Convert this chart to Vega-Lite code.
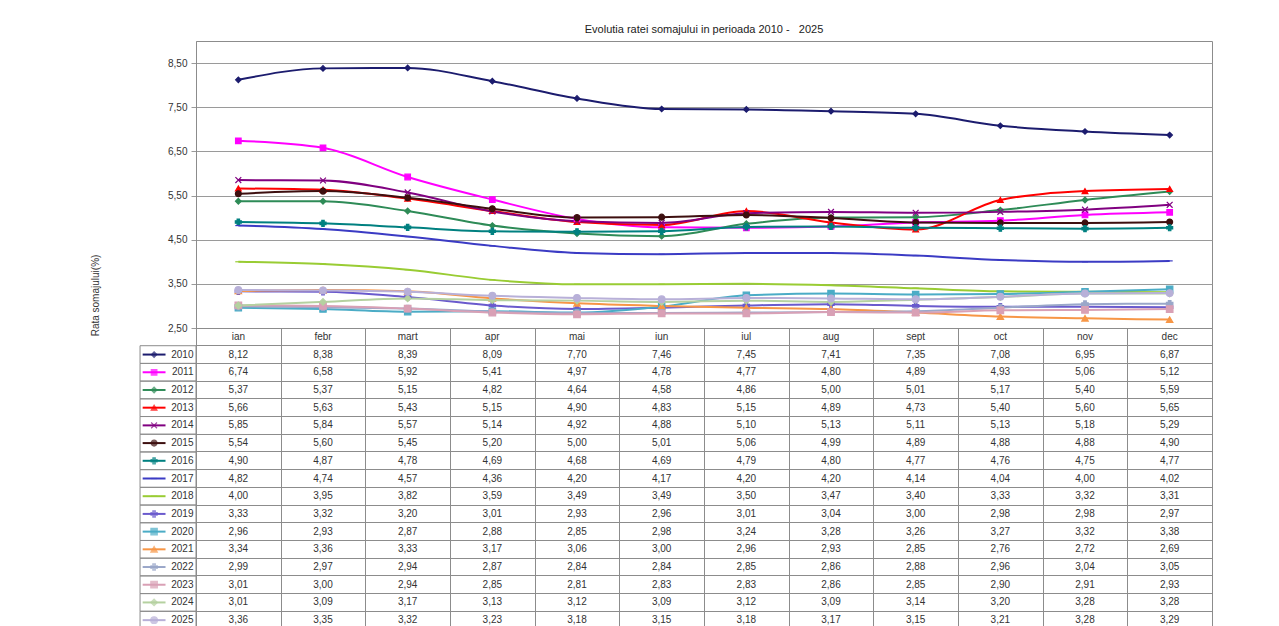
{
  "$schema": "https://vega.github.io/schema/vega-lite/v6.json",
  "background": "white",
  "padding": {"left": 89, "top": 23, "right": 0, "bottom": 0},
  "config": {
    "locale": {"number": {"decimal": ",", "thousands": ".", "grouping": [3], "currency": ["", ""]}},
    "view": {"stroke": "#8c8c8c"},
    "font": "Liberation Sans"
  },
  "datasets": {
    "months": [
      {"mon": "ian", "m": 1}, {"mon": "febr", "m": 2}, {"mon": "mart", "m": 3}, {"mon": "apr", "m": 4},
      {"mon": "mai", "m": 5}, {"mon": "iun", "m": 6}, {"mon": "iul", "m": 7}, {"mon": "aug", "m": 8},
      {"mon": "sept", "m": 9}, {"mon": "oct", "m": 10}, {"mon": "nov", "m": 11}, {"mon": "dec", "m": 12}
    ],
    "rates": [
      {"year": "2010", "ian": 8.12, "febr": 8.38, "mart": 8.39, "apr": 8.09, "mai": 7.70, "iun": 7.46, "iul": 7.45, "aug": 7.41, "sept": 7.35, "oct": 7.08, "nov": 6.95, "dec": 6.87},
      {"year": "2011", "ian": 6.74, "febr": 6.58, "mart": 5.92, "apr": 5.41, "mai": 4.97, "iun": 4.78, "iul": 4.77, "aug": 4.80, "sept": 4.89, "oct": 4.93, "nov": 5.06, "dec": 5.12},
      {"year": "2012", "ian": 5.37, "febr": 5.37, "mart": 5.15, "apr": 4.82, "mai": 4.64, "iun": 4.58, "iul": 4.86, "aug": 5.00, "sept": 5.01, "oct": 5.17, "nov": 5.40, "dec": 5.59},
      {"year": "2013", "ian": 5.66, "febr": 5.63, "mart": 5.43, "apr": 5.15, "mai": 4.90, "iun": 4.83, "iul": 5.15, "aug": 4.89, "sept": 4.73, "oct": 5.40, "nov": 5.60, "dec": 5.65},
      {"year": "2014", "ian": 5.85, "febr": 5.84, "mart": 5.57, "apr": 5.14, "mai": 4.92, "iun": 4.88, "iul": 5.10, "aug": 5.13, "sept": 5.11, "oct": 5.13, "nov": 5.18, "dec": 5.29},
      {"year": "2015", "ian": 5.54, "febr": 5.60, "mart": 5.45, "apr": 5.20, "mai": 5.00, "iun": 5.01, "iul": 5.06, "aug": 4.99, "sept": 4.89, "oct": 4.88, "nov": 4.88, "dec": 4.90},
      {"year": "2016", "ian": 4.90, "febr": 4.87, "mart": 4.78, "apr": 4.69, "mai": 4.68, "iun": 4.69, "iul": 4.79, "aug": 4.80, "sept": 4.77, "oct": 4.76, "nov": 4.75, "dec": 4.77},
      {"year": "2017", "ian": 4.82, "febr": 4.74, "mart": 4.57, "apr": 4.36, "mai": 4.20, "iun": 4.17, "iul": 4.20, "aug": 4.20, "sept": 4.14, "oct": 4.04, "nov": 4.00, "dec": 4.02},
      {"year": "2018", "ian": 4.00, "febr": 3.95, "mart": 3.82, "apr": 3.59, "mai": 3.49, "iun": 3.49, "iul": 3.50, "aug": 3.47, "sept": 3.40, "oct": 3.33, "nov": 3.32, "dec": 3.31},
      {"year": "2019", "ian": 3.33, "febr": 3.32, "mart": 3.20, "apr": 3.01, "mai": 2.93, "iun": 2.96, "iul": 3.01, "aug": 3.04, "sept": 3.00, "oct": 2.98, "nov": 2.98, "dec": 2.97},
      {"year": "2020", "ian": 2.96, "febr": 2.93, "mart": 2.87, "apr": 2.88, "mai": 2.85, "iun": 2.98, "iul": 3.24, "aug": 3.28, "sept": 3.26, "oct": 3.27, "nov": 3.32, "dec": 3.38},
      {"year": "2021", "ian": 3.34, "febr": 3.36, "mart": 3.33, "apr": 3.17, "mai": 3.06, "iun": 3.00, "iul": 2.96, "aug": 2.93, "sept": 2.85, "oct": 2.76, "nov": 2.72, "dec": 2.69},
      {"year": "2022", "ian": 2.99, "febr": 2.97, "mart": 2.94, "apr": 2.87, "mai": 2.84, "iun": 2.84, "iul": 2.85, "aug": 2.86, "sept": 2.88, "oct": 2.96, "nov": 3.04, "dec": 3.05},
      {"year": "2023", "ian": 3.01, "febr": 3.00, "mart": 2.94, "apr": 2.85, "mai": 2.81, "iun": 2.83, "iul": 2.83, "aug": 2.86, "sept": 2.85, "oct": 2.90, "nov": 2.91, "dec": 2.93},
      {"year": "2024", "ian": 3.01, "febr": 3.09, "mart": 3.17, "apr": 3.13, "mai": 3.12, "iun": 3.09, "iul": 3.12, "aug": 3.09, "sept": 3.14, "oct": 3.20, "nov": 3.28, "dec": 3.28},
      {"year": "2025", "ian": 3.36, "febr": 3.35, "mart": 3.32, "apr": 3.23, "mai": 3.18, "iun": 3.15, "iul": 3.18, "aug": 3.17, "sept": 3.15, "oct": 3.21, "nov": 3.28, "dec": 3.29}
    ]
  },
  "vconcat": [
    {
      "width": 1016,
      "height": 287,
      "title": {"text": "Evolutia ratei somajului in perioada 2010 -\u00a0\u00a0 2025", "fontSize": 11, "fontWeight": "normal", "color": "#222222", "offset": 6, "anchor": "middle"},
      "data": {"name": "rates"},
      "transform": [
        {"fold": ["ian", "febr", "mart", "apr", "mai", "iun", "iul", "aug", "sept", "oct", "nov", "dec"], "as": ["mon", "v"]},
        {"lookup": "mon", "from": {"data": {"name": "months"}, "key": "mon", "fields": ["m"]}}
      ],
      "encoding": {
        "x": {"field": "m", "type": "quantitative", "scale": {"domain": [0.5, 12.5], "nice": false, "zero": false}, "axis": null},
        "y": {"field": "v", "type": "quantitative", "scale": {"domain": [2.5, 9.0], "nice": false, "zero": false},
          "axis": {"values": [2.5, 3.5, 4.5, 5.5, 6.5, 7.5, 8.5], "format": ".2f", "grid": true, "gridColor": "#9a9a9a", "tickColor": "#9a9a9a", "domainColor": "#8c8c8c", "tickSize": 5, "labelFontSize": 10, "labelColor": "#333333", "labelPadding": 4,
            "title": "Rata somajului(%)", "titleFontSize": 10, "titleFontWeight": "normal", "titleColor": "#333333", "titleAngle": 270, "titleAlign": "center", "titleBaseline": "middle", "titleX": -101, "titleY": 254}},
        "color": {"field": "year", "type": "nominal", "legend": null,
          "scale": {"domain": ["2010","2011","2012","2013","2014","2015","2016","2017","2018","2019","2020","2021","2022","2023","2024","2025"],
            "range": ["#1c1c6e","#ff00ff","#2e8b57","#ff0000","#800080","#3d0f0f","#008080","#3b3bc4","#99cc33","#6a5acd","#4bacc6","#f79646","#9aa7c9","#d9a0b5","#b5d1a0","#b8b0d8"]}},
        "detail": {"field": "year"}
      },
      "layer": [
        {
          "mark": {"type": "line", "interpolate": "monotone"},
          "encoding": {
            "strokeWidth": {"field": "year", "type": "nominal", "legend": null,
              "scale": {"domain": ["2010","2011","2012","2013","2014","2015","2016","2017","2018","2019","2020","2021","2022","2023","2024","2025"],
                "range": [2, 2, 2, 3.2, 2, 1.5, 1.5, 1, 2.5, 2.5, 3, 3, 3, 3, 3, 3]}},
            "opacity": {"field": "year", "type": "nominal", "legend": null,
              "scale": {"domain": ["2010","2011","2012","2013","2014","2015","2016","2017","2018","2019","2020","2021","2022","2023","2024","2025"],
                "range": [1, 1, 1, 1, 1, 1, 1, 1, 1, 0.85, 0.8, 0.8, 0.6, 0.6, 0.6, 0.6]}}
          }
        },
        {
          "mark": {"type": "point", "filled": true, "strokeWidth": 1.2},
          "encoding": {
            "shape": {"field": "year", "type": "nominal", "legend": null,
              "scale": {"domain": ["2010","2011","2012","2013","2014","2015","2016","2017","2018","2019","2020","2021","2022","2023","2024","2025"],
                "range": ["diamond","square","diamond","triangle-up","M-1,-1L1,1M-1,1L1,-1","circle","cross","stroke","stroke","cross","square","triangle-up","cross","square","diamond","circle"]}},
            "stroke": {"field": "year", "type": "nominal", "legend": null,
              "scale": {"domain": ["2010","2011","2012","2013","2014","2015","2016","2017","2018","2019","2020","2021","2022","2023","2024","2025"],
                "range": ["#1c1c6e","#ff00ff","#2e8b57","#ff0000","#800080","#3d0f0f","#008080","#3b3bc4","#99cc33","#6a5acd","#4bacc6","#f79646","#9aa7c9","#d9a0b5","#b5d1a0","#b8b0d8"]}},
            "size": {"field": "year", "type": "nominal", "legend": null,
              "scale": {"domain": ["2010","2011","2012","2013","2014","2015","2016","2017","2018","2019","2020","2021","2022","2023","2024","2025"],
                "range": [30, 45, 25, 35, 30, 30, 30, 15, 10, 40, 50, 45, 50, 50, 50, 50]}},
            "opacity": {"field": "year", "type": "nominal", "legend": null,
              "scale": {"domain": ["2010","2011","2012","2013","2014","2015","2016","2017","2018","2019","2020","2021","2022","2023","2024","2025"],
                "range": [1, 1, 1, 1, 1, 1, 1, 1, 1, 0.85, 0.8, 0.8, 0.6, 0.6, 0.6, 0.6]}}
          }
        }
      ]
    },
    {
      "width": 1016,
      "height": 301,
      "layer": [
        {
          "data": {"name": "rates"},
          "mark": {"type": "rect", "fill": null, "stroke": "#8c8c8c", "strokeWidth": 1},
          "encoding": {
            "x": {"datum": -0.161, "type": "quantitative", "scale": {"domain": [0.5, 12.5], "nice": false, "zero": false}},
            "x2": {"datum": 0.5},
            "y": {"field": "year", "type": "ordinal", "scale": {"domain": ["h","2010","2011","2012","2013","2014","2015","2016","2017","2018","2019","2020","2021","2022","2023","2024","2025"], "paddingInner": 0, "paddingOuter": 0},
              "axis": {"grid": true, "bandPosition": 0, "labels": false, "ticks": false, "domain": false, "title": null, "gridColor": "#8c8c8c"}}
          }
        },
        {
          "data": {"name": "rates"},
          "mark": {"type": "rule"},
          "encoding": {
            "x": {"datum": -0.13, "type": "quantitative"},
            "x2": {"datum": 0.14},
            "y": {"field": "year", "type": "ordinal"},
            "color": {"field": "year", "type": "nominal", "legend": null},
            "strokeWidth": {"field": "year", "type": "nominal", "legend": null,
              "scale": {"domain": ["2010","2011","2012","2013","2014","2015","2016","2017","2018","2019","2020","2021","2022","2023","2024","2025"],
                "range": [2, 2, 2, 3.2, 2, 1.5, 1.5, 1, 2.5, 2.5, 3, 3, 3, 3, 3, 3]}}
          }
        },
        {
          "data": {"name": "rates"},
          "mark": {"type": "point", "filled": true, "strokeWidth": 1.2},
          "encoding": {
            "x": {"datum": 0.005, "type": "quantitative"},
            "y": {"field": "year", "type": "ordinal"},
            "color": {"field": "year", "type": "nominal", "legend": null},
            "stroke": {"field": "year", "type": "nominal", "legend": null},
            "shape": {"field": "year", "type": "nominal", "legend": null},
            "size": {"field": "year", "type": "nominal", "legend": null}
          }
        },
        {
          "data": {"name": "rates"},
          "mark": {"type": "text", "align": "right", "baseline": "middle", "fontSize": 10, "color": "#333333"},
          "encoding": {
            "x": {"datum": 0.47, "type": "quantitative"},
            "y": {"field": "year", "type": "ordinal"},
            "text": {"field": "year"}
          }
        },
        {
          "data": {"name": "months"},
          "mark": {"type": "text", "align": "center", "baseline": "middle", "fontSize": 10, "color": "#333333"},
          "encoding": {
            "x": {"field": "m", "type": "quantitative"},
            "y": {"datum": "h", "type": "ordinal"},
            "text": {"field": "mon"}
          }
        },
        {
          "data": {"name": "rates"},
          "transform": [
            {"fold": ["ian", "febr", "mart", "apr", "mai", "iun", "iul", "aug", "sept", "oct", "nov", "dec"], "as": ["mon", "v"]},
            {"lookup": "mon", "from": {"data": {"name": "months"}, "key": "mon", "fields": ["m"]}}
          ],
          "mark": {"type": "text", "align": "center", "baseline": "middle", "fontSize": 10, "color": "#333333"},
          "encoding": {
            "x": {"field": "m", "type": "quantitative",
              "axis": {"values": [1.5, 2.5, 3.5, 4.5, 5.5, 6.5, 7.5, 8.5, 9.5, 10.5, 11.5], "grid": true, "labels": false, "ticks": false, "domain": false, "title": null, "gridColor": "#8c8c8c"}},
            "y": {"field": "year", "type": "ordinal"},
            "text": {"field": "v", "type": "quantitative", "format": ".2f"}
          }
        }
      ]
    }
  ],
  "spacing": 0,
  "bounds": "flush"
}
